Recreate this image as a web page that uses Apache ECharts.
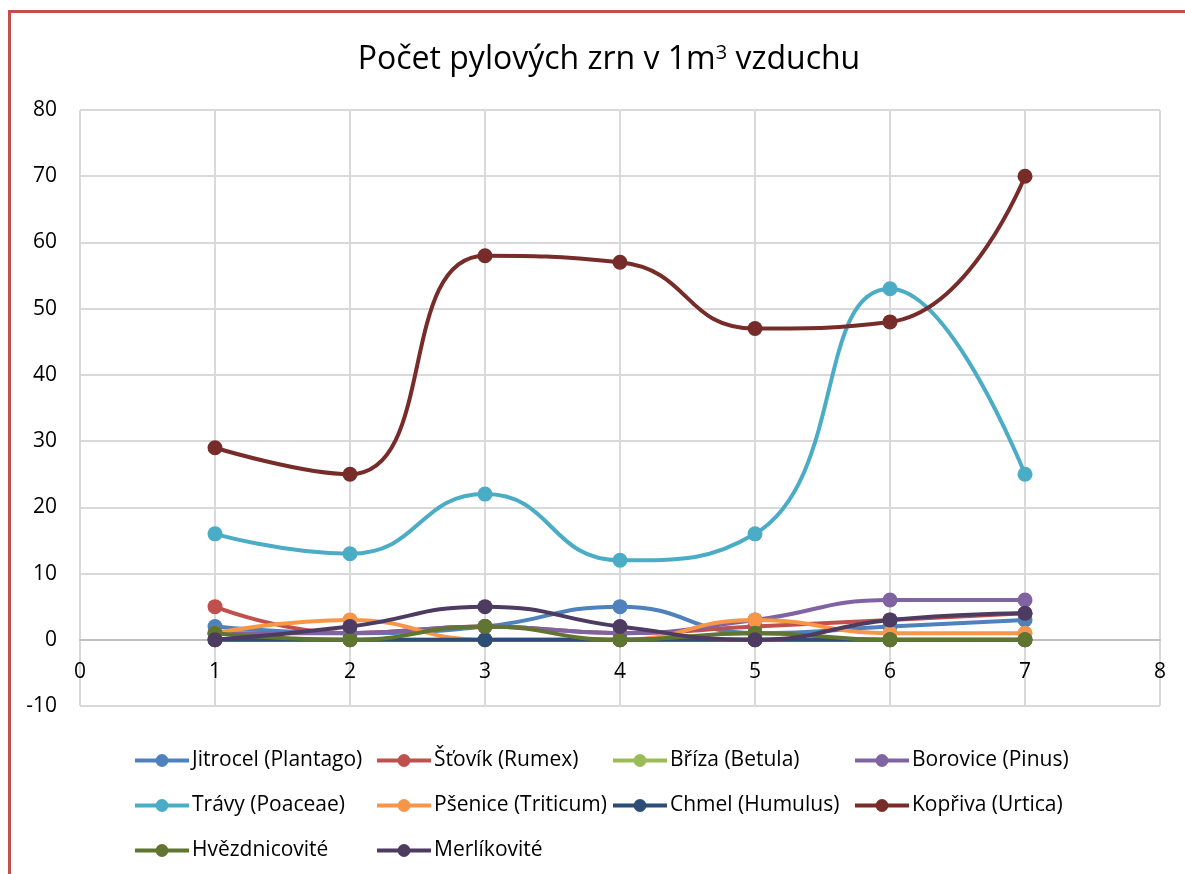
<!DOCTYPE html>
<html>
<head>
<meta charset="utf-8">
<script src="https://cdn.jsdelivr.net/npm/echarts@6/dist/echarts.min.js"></script>
<style>
html,body{margin:0;padding:0;background:#fff;}
#c{width:1185px;height:874px;}
</style>
</head>
<body>
<div id="c"></div>
<script>
var xValues = [1, 2, 3, 4, 5, 6, 7];
var seriesNames = ['Jitrocel (Plantago)', 'Šťovík (Rumex)', 'Bříza (Betula)', 'Borovice (Pinus)',
  'Trávy (Poaceae)', 'Pšenice (Triticum)', 'Chmel (Humulus)', 'Kopřiva (Urtica)',
  'Hvězdnicovité', 'Merlíkovité'];
var jitrocel   = [2, 1, 2, 5, 1, 2, 3];
var stovik     = [5, 1, 2, 1, 2, 3, 4];
var briza      = [0, 0, 0, 0, 0, 0, 0];
var borovice   = [1, 1, 2, 1, 3, 6, 6];
var travy      = [16, 13, 22, 12, 16, 53, 25];
var psenice    = [1, 3, 0, 0, 3, 1, 1];
var chmel      = [0, 0, 0, 0, 0, 0, 0];
var kopriva    = [29, 25, 58, 57, 47, 48, 70];
var hvezdnic   = [1, 0, 2, 0, 1, 0, 0];
var merlik     = [0, 2, 5, 2, 0, 3, 4];
var seriesValues = [jitrocel, stovik, briza, borovice, travy, psenice, chmel, kopriva, hvezdnic, merlik];
var colors = ['#4F81BD', '#C0504D', '#9BBB59', '#8064A2', '#4BACC6', '#F79646', '#2C4D75', '#772C2A', '#5F7530', '#4D3B62'];
var xTicks = [0, 1, 2, 3, 4, 5, 6, 7, 8];
var yTicks = [-10, 0, 10, 20, 30, 40, 50, 60, 70, 80];

var FONT = '"Open Sans", sans-serif';

var series = seriesNames.map(function (n, i) {
  return {
    name: n,
    type: 'line',
    smooth: 0.5,
    data: xValues.map(function (x, j) { return [x, seriesValues[i][j]]; }),
    symbol: 'circle',
    symbolSize: 15,
    lineStyle: { width: 4, color: colors[i] },
    itemStyle: { color: colors[i] },
    z: 2 + i,
    emphasis: { disabled: true },
    animation: false
  };
});

var colLeft = [128, 370, 606, 848];
var legends = colLeft.map(function (l, c) {
  var d = [];
  for (var k = c; k < seriesNames.length; k += 4) d.push(seriesNames[k]);
  return {
    orient: 'vertical',
    left: l,
    top: 745,
    itemWidth: 54,
    itemHeight: 16,
    itemGap: 24,
    lineStyle: { width: 4 },
    data: d,
    textStyle: { fontFamily: FONT, fontSize: 21, color: '#000', padding: [0, 0, 0, -2] }
  };
});

var chart = echarts.init(document.getElementById('c'), null, { renderer: 'canvas' });
chart.setOption({
  animation: false,
  color: colors,
  title: {
    text: 'Počet pylových zrn v 1m{sup|3} vzduchu',
    left: 604,
    textAlign: 'center',
    top: 38,
    textStyle: {
      fontFamily: FONT, fontSize: 32, fontWeight: 'normal', color: '#000',
      rich: { sup: { fontFamily: FONT, fontSize: 20, verticalAlign: 'top', padding: [0, 0, 14, 0], color: '#000' } }
    }
  },
  graphic: [
    { type: 'rect', shape: { x: 8, y: 10, width: 1177, height: 3 }, style: { fill: '#C0504D' }, silent: true },
    { type: 'rect', shape: { x: 8, y: 10, width: 3, height: 864 }, style: { fill: '#C0504D' }, silent: true }
  ],
  grid: { left: 80, right: 25, top: 110, bottom: 168, containLabel: false },
  xAxis: {
    type: 'value', min: 0, max: 8, interval: 1,
    offset: -66,
    axisLine: { onZero: false, lineStyle: { color: '#BFBFBF', width: 2 } },
    axisTick: { show: false },
    axisLabel: { margin: 22, fontFamily: FONT, fontSize: 21, color: '#000',
      formatter: function (v) { return xTicks.indexOf(v) >= 0 ? String(v) : ''; } },
    splitLine: { show: true, lineStyle: { color: '#D9D9D9', width: 2 } }
  },
  yAxis: {
    type: 'value', min: -10, max: 80, interval: 10,
    axisLine: { show: false },
    axisTick: { show: false },
    axisLabel: { margin: 23, fontFamily: FONT, fontSize: 21, color: '#000',
      formatter: function (v) { return yTicks.indexOf(v) >= 0 ? String(v) : ''; } },
    splitLine: { show: true, lineStyle: { color: '#D9D9D9', width: 2 } }
  },
  legend: legends,
  series: series
});
</script>
</body>
</html>
